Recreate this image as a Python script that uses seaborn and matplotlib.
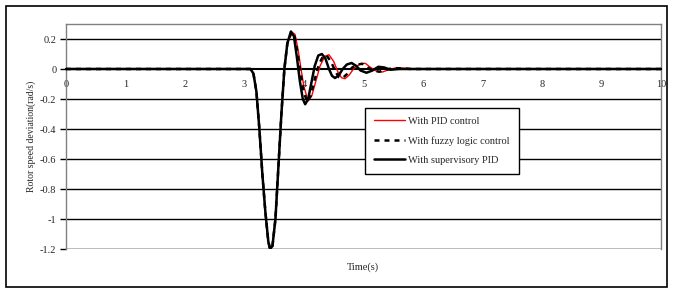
import matplotlib
matplotlib.use("Agg")
import matplotlib.pyplot as plt
import seaborn as sns
import pandas as pd
from matplotlib.patches import Rectangle

# Time (s) and rotor speed deviation (rad/s)
t_sup = [0, 3.1, 3.15, 3.2, 3.25, 3.3, 3.35, 3.4, 3.43, 3.47, 3.52, 3.57, 3.62, 3.67, 3.72, 3.78,
         3.83, 3.88, 3.93, 3.98, 4.02, 4.07, 4.12, 4.18, 4.24, 4.30, 4.36, 4.42, 4.47, 4.52, 4.58,
         4.65, 4.72, 4.80, 4.88, 4.95, 5.05, 5.15, 5.25, 5.35, 5.45, 5.6, 10]
y_sup = [0, 0, -0.03, -0.15, -0.4, -0.7, -0.95, -1.15, -1.2, -1.18, -1.0, -0.65, -0.3, 0.0, 0.17, 0.25,
         0.22, 0.08, -0.08, -0.2, -0.235, -0.2, -0.1, 0.02, 0.09, 0.10, 0.07, 0.0, -0.045, -0.06, -0.045,
         0.0, 0.03, 0.04, 0.02, -0.01, -0.025, -0.01, 0.015, 0.01, -0.005, 0, 0]

t_pid = [0, 3.1, 3.15, 3.2, 3.25, 3.3, 3.35, 3.4, 3.43, 3.47, 3.52, 3.57, 3.62, 3.67, 3.72, 3.8,
         3.85, 3.9, 3.95, 4.0, 4.07, 4.13, 4.2, 4.27, 4.35, 4.42, 4.5, 4.57, 4.63, 4.69, 4.76,
         4.85, 4.95, 5.03, 5.12, 5.22, 5.32, 5.42, 5.55, 5.7, 5.85, 10]
y_pid = [0, 0, -0.03, -0.15, -0.4, -0.7, -0.95, -1.15, -1.2, -1.18, -1.0, -0.65, -0.3, 0.0, 0.17, 0.245,
         0.23, 0.13, 0.0, -0.12, -0.213, -0.18, -0.08, 0.02, 0.085, 0.095, 0.05, -0.02, -0.058, -0.065, -0.04,
         0.01, 0.035, 0.038, 0.01, -0.015, -0.02, -0.005, 0.008, 0.005, 0, 0]

t_fuz = [0, 3.1, 3.15, 3.2, 3.25, 3.3, 3.35, 3.4, 3.43, 3.47, 3.52, 3.57, 3.62, 3.67, 3.72, 3.79,
         3.84, 3.89, 3.94, 3.99, 4.05, 4.11, 4.18, 4.25, 4.32, 4.38, 4.46, 4.53, 4.59, 4.65, 4.72,
         4.81, 4.9, 4.98, 5.07, 5.17, 5.27, 5.37, 5.5, 5.65, 5.8, 10]
y_fuz = [0, 0, -0.03, -0.15, -0.4, -0.7, -0.95, -1.15, -1.2, -1.18, -1.0, -0.65, -0.3, 0.0, 0.17, 0.245,
         0.22, 0.11, -0.02, -0.14, -0.22, -0.18, -0.07, 0.03, 0.085, 0.09, 0.045, -0.02, -0.055, -0.06, -0.035,
         0.01, 0.03, 0.035, 0.01, -0.012, -0.018, -0.005, 0.006, 0.004, 0, 0]

labels = ["With PID control", "With fuzzy logic control", "With supervisory PID"]
x_ticks = [0, 1, 2, 3, 4, 5, 6, 7, 8, 9, 10]
y_ticks = [-1.2, -1.0, -0.8, -0.6, -0.4, -0.2, 0.0, 0.2]
y_ticklabels = ["-1.2", "-1", "-0.8", "-0.6", "-0.4", "-0.2", "0", "0.2"]

sns.set_style("white")
plt.rcParams['font.family'] = ['Liberation Serif', 'DejaVu Serif']
plt.rcParams['font.size'] = 7

fig = plt.figure(figsize=(6.75, 2.94), dpi=100)
fig.patches.append(Rectangle((6/675, 1 - 287/294), 661/675, 281/294, transform=fig.transFigure,
                             fill=False, edgecolor='black', linewidth=1.2))
ax = fig.add_axes([66/675, 1 - 249/294, 595/675, 225/294])

for yv in y_ticks:
    if yv != 0.0:
        ax.axhline(yv, color='black', linewidth=1.0, zorder=1)

sns.lineplot(x=t_pid, y=y_pid, ax=ax, color='red', linewidth=1.0, label=labels[0], zorder=3, sort=False)
sns.lineplot(x=t_fuz, y=y_fuz, ax=ax, color='black', linewidth=1.8, linestyle=(0, (2, 2)),
             label=labels[1], zorder=4, sort=False)
sns.lineplot(x=t_sup, y=y_sup, ax=ax, color='black', linewidth=1.8, label=labels[2], zorder=5, sort=False)

ax.set_xlim(0, 10)
ax.set_ylim(-1.2, 0.3)
ax.set_xticks(x_ticks)
ax.set_xticklabels([str(v) for v in x_ticks])
ax.set_yticks(y_ticks)
ax.set_yticklabels(y_ticklabels)

for s in ['top', 'right', 'left']:
    ax.spines[s].set_color('#808080')
    ax.spines[s].set_linewidth(1.0)
ax.spines['bottom'].set_position(('data', 0))
ax.spines['bottom'].set_color('black')
ax.spines['bottom'].set_linewidth(1.5)

# gray frame bottom edge
ax.axhline(-1.2, color='#808080', linewidth=1.0, zorder=2)

ax.tick_params(axis='x', direction='out', length=3, width=1, color='black', pad=5, labelsize=7.5)
ax.tick_params(axis='y', direction='out', length=4, width=1, color='black', pad=3, labelsize=7.5,
               left=True)
ax.set_xlabel("")
ax.set_ylabel("Rotor speed deviation(rad/s)", fontsize=7, labelpad=3)
fig.text(363/675, 1 - 267/294, "Time(s)", ha='center', va='center', fontsize=7.5)

leg = ax.legend(loc='upper left', bbox_to_anchor=((365 - 66) / 595, (249 - 108) / 225),
                frameon=True, fancybox=False, edgecolor='black', framealpha=1,
                fontsize=7.5, handlelength=3.0, borderpad=0.85, labelspacing=0.95, handletextpad=0.3,
                borderaxespad=0)
leg.get_frame().set_linewidth(1.0)

fig.savefig("out.png", dpi=100)
